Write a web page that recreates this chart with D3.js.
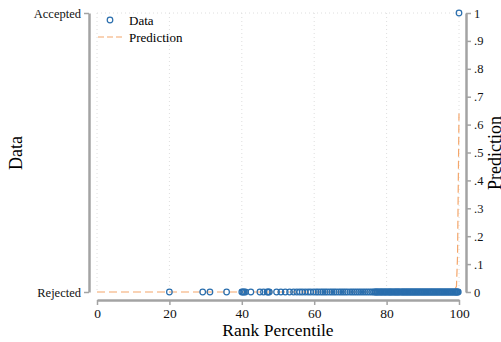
<!DOCTYPE html>
<html>
<head>
<meta charset="utf-8">
<script src="https://cdn.jsdelivr.net/npm/d3@7"></script>
<style>
  body { margin: 0; background: #fff; }
  svg { font-family: "Liberation Serif", "DejaVu Serif", serif; }
</style>
</head>
<body>
<div id="chart"></div>
<script>
// Rank percentiles of rejected applicants (outcome 0)
const rejectedRanks = [
  20, 29.2, 31.2, 35.8, 40.0, 40.3, 40.6, 41.0, 42.5, 45.0, 46.0, 47.0, 47.3, 47.6,
  49.6, 50.8, 52.0, 53.2, 54.3, 55.2, 56.0, 56.7, 57.5, 58.3, 59.0, 59.8,
  60.5, 61.1, 61.8, 62.4, 63.0, 63.6, 64.3, 64.9, 65.5, 66.1, 66.8, 67.4, 68.0,
  68.6, 69.2, 69.9, 70.5, 71.1, 71.7, 72.3, 72.9, 73.5, 74.1, 74.7, 75.3, 75.9,
  76.4, 76.8, 77.0, 77.3, 77.5, 77.8, 78.1, 78.4, 78.6, 78.9, 79.2, 79.5, 79.7,
  80.0, 80.3, 80.6, 80.8, 81.1, 81.3, 81.6, 81.9, 82.2, 82.4, 82.7, 82.9, 83.2,
  83.4, 83.7, 84.0, 84.3, 84.5, 84.8, 85.0, 85.3, 85.5, 85.8, 86.0, 86.3, 86.5,
  86.8, 87.0, 87.3, 87.5, 87.8, 88.0, 88.3, 88.5, 88.8, 89.0, 89.3, 89.5, 89.8,
  90.0, 90.3, 90.5, 90.8, 91.0, 91.3, 91.5, 91.8, 92.0, 92.3, 92.5, 92.8, 93.0,
  93.3, 93.5, 93.8, 94.0, 94.3, 94.5, 94.8, 95.0, 95.3, 95.5, 95.8, 96.0, 96.3,
  96.5, 96.8, 97.0, 97.3, 97.5, 97.8, 98.0, 98.3, 98.5, 98.8, 99.0, 99.2, 99.4,
  99.6, 99.8
];
// Rank percentiles of accepted applicants (outcome 1)
const acceptedRanks = [100];

// Predicted probability curve
const predRank  = [0, 20, 40, 60, 80, 95, 98.5, 99.3, 99.6, 100];
const predValue = [0, 0, 0, 0, 0, 0, 0.002, 0.02, 0.13, 0.64];

const xTicks = [0, 20, 40, 60, 80, 100];
const rightTicks = [0, 0.1, 0.2, 0.3, 0.4, 0.5, 0.6, 0.7, 0.8, 0.9, 1];
const leftTicks = [0, 1];
const leftLabels = ["Rejected", "Accepted"];

const width = 501, height = 342;
const blue = "#2a6ead", orange = "#f4a66b", axisGray = "#a3a3a3";

const svg = d3.select("#chart").append("svg")
    .attr("width", width)
    .attr("height", height);

const x = d3.scaleLinear().domain([0, 100]).range([97, 459]);
const y = d3.scaleLinear().domain([0, 1]).range([292, 13]);

// faint grid
const grid = svg.append("g")
    .attr("stroke", "#dedede")
    .attr("stroke-width", 1)
    .attr("stroke-dasharray", "1,3");
grid.selectAll("line.v").data(xTicks).join("line")
    .attr("x1", d => x(d)).attr("x2", d => x(d))
    .attr("y1", y(1)).attr("y2", y(0));
grid.selectAll("line.h").data([1]).join("line")
    .attr("x1", x(0)).attr("x2", x(100))
    .attr("y1", d => y(d)).attr("y2", d => y(d));

// axes
const leftAxis = svg.append("g")
    .attr("transform", "translate(89,0)")
    .call(d3.axisLeft(y).tickValues(leftTicks)
        .tickFormat((d, i) => leftLabels[i]).tickSize(5).tickSizeOuter(0).tickPadding(3));

const rightAxis = svg.append("g")
    .attr("transform", "translate(466,0)")
    .call(d3.axisRight(y).tickValues(rightTicks)
        .tickFormat(d => d === 0 ? "0" : d === 1 ? "1" : d3.format(".1f")(d).replace(/^0/, ""))
        .tickSize(5).tickSizeOuter(0).tickPadding(3));

const xAxis = svg.append("g")
    .attr("transform", "translate(0,300)")
    .call(d3.axisBottom(x).tickValues(xTicks).tickSize(5).tickSizeOuter(0).tickPadding(3));

[leftAxis, rightAxis, xAxis].forEach(a => {
    a.select(".domain").attr("stroke", axisGray).attr("stroke-width", 2.5);
    a.selectAll(".tick line").attr("stroke", axisGray).attr("stroke-width", 1.5);
    a.selectAll("text").attr("fill", "#111").style("font-size", "12.5px")
        .style("font-family", "'Liberation Serif', serif");
});
xAxis.selectAll("text").style("font-size", "13.5px");

// axis titles
svg.append("text")
    .attr("x", 278).attr("y", 336)
    .attr("text-anchor", "middle")
    .style("font-size", "17.5px")
    .text("Rank Percentile");
svg.append("text")
    .attr("transform", "translate(22,153) rotate(-90)")
    .attr("text-anchor", "middle")
    .style("font-size", "18px")
    .text("Data");
svg.append("text")
    .attr("transform", "translate(501,153) rotate(-90)")
    .attr("text-anchor", "middle")
    .style("font-size", "18px")
    .text("Prediction");

// prediction line
const pred = predRank.map((r, i) => ({ r: r, v: predValue[i] }));
svg.append("path")
    .datum(pred)
    .attr("fill", "none")
    .attr("stroke", orange)
    .attr("stroke-width", 1.2)
    .attr("stroke-dasharray", "8,4")
    .attr("d", d3.line().x(d => x(d.r)).y(d => y(d.v)));

// data points
const pts = rejectedRanks.map(r => ({ r: r, v: 0 }))
    .concat(acceptedRanks.map(r => ({ r: r, v: 1 })));
svg.append("g").selectAll("circle").data(pts).join("circle")
    .attr("cx", d => x(d.r))
    .attr("cy", d => y(d.v))
    .attr("r", 2.8)
    .attr("fill", "none")
    .attr("stroke", blue)
    .attr("stroke-width", 1.2);

// legend
const legend = svg.append("g");
legend.append("circle")
    .attr("cx", 110).attr("cy", 20).attr("r", 2.8)
    .attr("fill", "none").attr("stroke", blue).attr("stroke-width", 1.2);
legend.append("line")
    .attr("x1", 98).attr("x2", 122).attr("y1", 37).attr("y2", 37)
    .attr("stroke", orange).attr("stroke-width", 1.2).attr("stroke-dasharray", "6,3");
legend.append("text").attr("x", 129).attr("y", 25)
    .style("font-size", "13px").text("Data");
legend.append("text").attr("x", 129).attr("y", 42)
    .style("font-size", "13px").text("Prediction");
</script>
</body>
</html>
